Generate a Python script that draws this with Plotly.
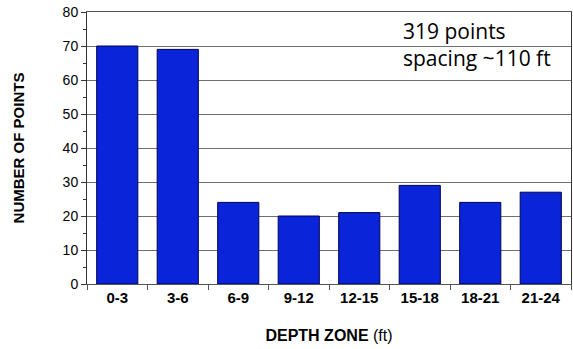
import plotly.graph_objects as go

categories = ["0-3", "3-6", "6-9", "9-12", "12-15", "15-18", "18-21", "21-24"]
counts = [70, 69, 24, 20, 21, 29, 24, 27]
y_ticks = [0, 10, 20, 30, 40, 50, 60, 70, 80]

fig = go.Figure()
fig.add_trace(go.Bar(
    x=categories, y=counts,
    marker=dict(color="#0A24DA", line=dict(color="#000050", width=1)),
))

fig.update_layout(
    width=573, height=349,
    margin=dict(l=87, r=2, t=12, b=65),
    paper_bgcolor="white", plot_bgcolor="white",
    bargap=0.32,
    showlegend=False,
    font=dict(family="Liberation Sans, Arial", color="black"),
    xaxis=dict(
        automargin=False,
        showline=True, linecolor="#555", linewidth=1, mirror=True,
        ticks="outside", tickson="boundaries", ticklen=5, tickcolor="#555",
        tickfont=dict(size=15, family="Liberation Sans, Arial"),
        title=dict(text="<b>DEPTH ZONE</b> (ft)", font=dict(size=16), standoff=24),
    ),
    yaxis=dict(
        automargin=False,
        range=[0, 80], tickvals=y_ticks,
        showline=True, linecolor="#333", linewidth=1, mirror=True,
        ticks="outside", ticklen=5, tickcolor="#333",
        minor=dict(dtick=5, ticks="outside", ticklen=3, tickcolor="#333", showgrid=False),
        showgrid=True, gridcolor="#707070", gridwidth=1,
        tickfont=dict(size=14, family="Liberation Sans, Arial"),
        title=dict(text="<b>NUMBER OF POINTS</b>", font=dict(size=15), standoff=34),
        zeroline=False,
    ),
    annotations=[dict(
        x=0.648, y=0.99, xref="paper", yref="paper", xanchor="left", yanchor="top",
        text="319 points<br>spacing ~110 ft", showarrow=False, align="left",
        font=dict(size=21, family="Open Sans", color="black"),
    )],
)
fig.update_yaxes(tickprefix="<b>", ticksuffix="</b>")
fig.update_xaxes(tickprefix="<b>", ticksuffix="</b>")

fig.write_html("out.html", config={"displayModeBar": False},
               post_script="document.body.style.margin='0';")
